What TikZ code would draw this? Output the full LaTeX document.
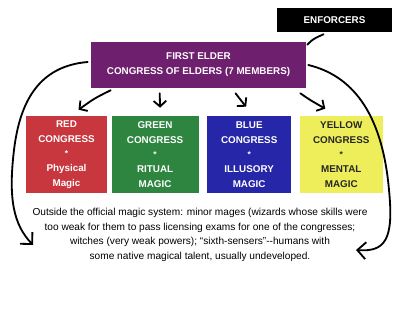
\documentclass[tikz,border=0pt]{standalone}
\usepackage{fontspec}
\setmainfont{Liberation Sans}
\usetikzlibrary{arrows.meta, positioning, calc}

\definecolor{elderpurple}{HTML}{6E1F6E}
\definecolor{congred}{HTML}{C8363E}
\definecolor{conggreen}{HTML}{2E8540}
\definecolor{congblue}{HTML}{2626A8}
\definecolor{congyellow}{HTML}{EEEE5A}

\newcommand{\congstar}{{\fontsize{6}{10.5}\selectfont *}}

\begin{document}
\begin{tikzpicture}[
  x=0.025cm, y=-0.025cm,
  cong/.style={
    rectangle, minimum height=1.925cm, inner sep=0pt,
    align=center, text=white,
    font=\fontsize{7}{10.5}\selectfont\bfseries
  },
  head/.style={
    rectangle, inner sep=0pt, align=center, text=white,
    font=\fontsize{7}{10.7}\selectfont\bfseries
  },
  note/.style={
    align=center, inner sep=0pt,
    font=\fontsize{7.2}{10.4}\selectfont
  },
  arr/.style={-{Straight Barb[length=4pt,width=9pt]}, line width=1.3pt, line cap=round},
  bigarr/.style={-{Straight Barb[length=6pt,width=12pt]}, line width=1.3pt, line cap=round}
]
  \useasboundingbox (0,0) rectangle (400,309);

  \node[head, fill=black, minimum width=2.875cm, minimum height=0.6cm]
    (enf) at (334.5,20) {ENFORCERS};
  \node[head, fill=elderpurple, minimum width=5.375cm, minimum height=1.15cm]
    (elder) at (198.5,65) {FIRST ELDER\\CONGRESS OF ELDERS (7 MEMBERS)};

  \node[cong, fill=congred, minimum width=2.025cm] (red) at (66.5,154.5)
    {RED\\CONGRESS\\\congstar\\Physical\\Magic};
  \node[cong, fill=conggreen, minimum width=2.175cm, right=0.1cm of red] (green)
    {GREEN\\CONGRESS\\\congstar\\RITUAL\\MAGIC};
  \node[cong, fill=congblue, minimum width=2.1cm, right=0.2cm of green] (blue)
    {BLUE\\CONGRESS\\\congstar\\ILLUSORY\\MAGIC};
  \node[cong, fill=congyellow, text=black!85, minimum width=2.075cm, right=0.2cm of blue] (yellow)
    {YELLOW\\CONGRESS\\\congstar\\MENTAL\\MAGIC};

  \node[note] (outside) at (200,235)
    {Outside the official magic system: minor mages (wizards whose skills were\\
     too weak for them to pass licensing exams for one of the congresses;\\
     witches (very weak powers); ``sixth-sensers''-{}-humans with\\
     some native magical talent, usually undeveloped.};

  \coordinate (lefttip) at (33,245);
  \coordinate (righttip) at (356,250);

  % hand drawn connectors
  \draw[line width=1.3pt, line cap=round] ($(enf.south)+(-11,2)$)
    .. controls (313,39) .. ($(elder.north east)+(1,3)$);

  \draw[arr] ($(elder.south west)+(20,2)$) .. controls (95,98) .. ($(red.north)+(12,-6)$);
  \draw[arr] ($(elder.south west)+(69,5)$) -- ($(green.north)+(5,-8)$);
  \draw[arr] ($(elder.south)+(37,5)$) .. controls (240,100) .. ($(blue.north)+(-3,-9)$);
  \draw[arr] ($(elder.south east)+(-6,5)$) .. controls (310,100) .. ($(yellow.north)+(-16,-7)$);

  \draw[bigarr] ($(elder.west)+(-3,-3)$)
    .. controls (40,66) and (20,100) .. (14,150)
    .. controls (8,200) and (14,225) .. (lefttip);
  \draw[bigarr] ($(elder.east)+(2,0)$)
    .. controls (350,75) and (382,110) .. (389,190)
    .. controls (394,240) and (385,252) .. (righttip);
\end{tikzpicture}
\end{document}
